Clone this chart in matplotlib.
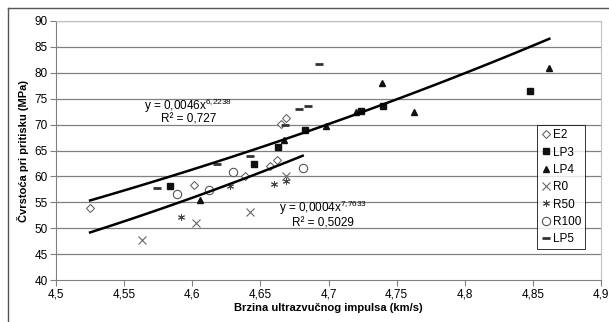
import numpy as np
import matplotlib
matplotlib.use('Agg')
import matplotlib.pyplot as plt
from matplotlib.lines import Line2D

plt.rcParams['font.family'] = ['Liberation Sans', 'DejaVu Sans']
plt.rcParams['mathtext.fontset'] = 'custom'
plt.rcParams['mathtext.rm'] = 'Liberation Sans'

# measured points (velocity km/s, strength MPa)
e2_x = [4.525, 4.601, 4.639, 4.657, 4.662, 4.665, 4.669]
e2_y = [53.9, 58.4, 60.0, 62.1, 63.1, 70.1, 71.3]
lp3_x = [4.584, 4.645, 4.663, 4.683, 4.724, 4.740, 4.848]
lp3_y = [58.2, 62.4, 65.7, 69.0, 72.7, 73.6, 76.4]
lp4_x = [4.606, 4.667, 4.698, 4.720, 4.739, 4.763, 4.862]
lp4_y = [55.5, 67.1, 69.8, 72.4, 78.1, 72.4, 80.9]
r0_x = [4.563, 4.603, 4.642, 4.669]
r0_y = [47.8, 51.1, 53.2, 60.1]
r50_x = [4.592, 4.628, 4.660, 4.669]
r50_y = [52.1, 58.1, 58.5, 59.2]
r100_x = [4.589, 4.612, 4.630, 4.681]
r100_y = [56.6, 57.4, 60.8, 61.7]
lp5_x = [4.574, 4.618, 4.642, 4.668, 4.678, 4.685, 4.693]
lp5_y = [57.8, 62.3, 64.0, 70.0, 73.1, 73.5, 81.7]

# power trend lines y = a * x^b
fit1_a, fit1_b, fit1_r2 = 0.0046, 6.2238, '0,727'
fit1_range = (4.525, 4.862)
fit2_a, fit2_b, fit2_r2 = 0.0004, 7.7633, '0,5029'
fit2_range = (4.525, 4.681)

x_ticks = [4.5, 4.55, 4.6, 4.65, 4.7, 4.75, 4.8, 4.85, 4.9]
y_ticks = [40, 45, 50, 55, 60, 65, 70, 75, 80, 85, 90]


def comma(v):
    return ('%g' % v).replace('.', ',')


def eq_label(a, b):
    return 'y = %sx$^{\\mathregular{%s}}$' % (comma(a), comma(b).replace(',', '{,}'))


fig = plt.figure(figsize=(6.09, 3.22), dpi=100)
ax = fig.add_axes([0.092, 0.1304, 0.895, 0.8044])

for y in y_ticks[1:]:
    ax.axhline(y, color='#808080', lw=0.9, zorder=0)

ax.plot(e2_x, e2_y, ls='none', marker='D', ms=4.5, mfc='white', mec='#555555', mew=0.7, label='E2')
ax.plot(lp3_x, lp3_y, ls='none', marker='s', ms=4, color='#111111', label='LP3')
ax.plot(lp4_x, lp4_y, ls='none', marker='^', ms=4, color='#111111', label='LP4')
ax.plot(r0_x, r0_y, ls='none', marker='x', ms=6, color='#666666', mew=0.8, label='R0')
ax.plot(r50_x, r50_y, ls='none', marker=(6, 2, 0), ms=5, color='#444444', mew=0.7, label='R50')
ax.plot(r100_x, r100_y, ls='none', marker='o', ms=6, mfc='white', mec='#555555', mew=0.8, label='R100')
ax.plot(lp5_x, lp5_y, ls='none', marker='_', ms=6, color='#333333', mew=2, label='LP5')

xs = np.linspace(fit1_range[0], fit1_range[1], 100)
ax.plot(xs, fit1_a * xs ** fit1_b, color='black', lw=1.8, zorder=3)
xs = np.linspace(fit2_range[0], fit2_range[1], 100)
ax.plot(xs, fit2_a * xs ** fit2_b, color='black', lw=1.8, zorder=3)

ax.text(4.597, 73.6, eq_label(fit1_a, fit1_b), fontsize=8.5, ha='center', va='center')
ax.text(4.597, 70.9, 'R² = %s' % fit1_r2, fontsize=8.5, ha='center', va='center')
ax.text(4.696, 54.0, eq_label(fit2_a, fit2_b), fontsize=8.5, ha='center', va='center')
ax.text(4.696, 51.0, 'R² = %s' % fit2_r2, fontsize=8.5, ha='center', va='center')

ax.set_xlim(4.5, 4.9)
ax.set_ylim(40, 90)
ax.set_xticks(x_ticks)
ax.set_xticklabels([comma(v) for v in x_ticks])
ax.set_yticks(y_ticks)
ax.set_yticklabels([str(v) for v in y_ticks])
ax.tick_params(direction='out', length=4, width=0.8, color='#808080', labelsize=8.5, pad=2)
for s in ['left', 'bottom']:
    ax.spines[s].set_color('#808080')
for s in ['top', 'right']:
    ax.spines[s].set_color('#c0c0c0')

ax.set_xlabel('Brzina ultrazvučnog impulsa (km/s)', fontsize=8, fontweight='bold', labelpad=2)
ax.set_ylabel('Čvrstoća pri pritisku (MPa)', fontsize=8, fontweight='bold', labelpad=4)

leg = ax.legend(loc='upper left', bbox_to_anchor=(0.883, 0.598), fontsize=8.5, frameon=True,
                fancybox=False, edgecolor='black', handlelength=0.7, handletextpad=0.25,
                borderpad=0.35, labelspacing=0.45, borderaxespad=0)
leg.get_frame().set_linewidth(0.7)

# chart area border
fig.add_artist(Line2D([8 / 609, 1], [1 - 8 / 322, 1 - 8 / 322], color='#555555', lw=1))
fig.add_artist(Line2D([8 / 609, 8 / 609], [0, 1 - 8 / 322], color='#555555', lw=1))

fig.savefig('out.png', dpi=100)
